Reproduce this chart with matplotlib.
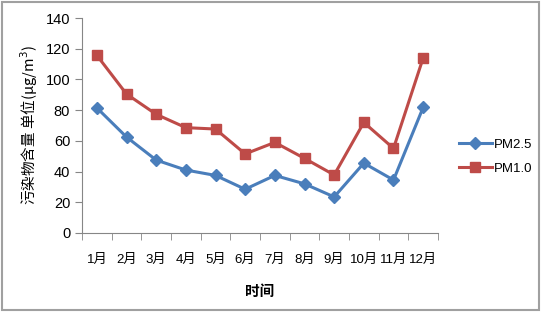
import matplotlib.pyplot as plt
import numpy as np

plt.rcParams['font.family'] = ['Liberation Sans', 'Noto Sans CJK SC', 'DejaVu Sans']

months = ["1月", "2月", "3月", "4月", "5月", "6月", "7月", "8月", "9月", "10月", "11月", "12月"]
pm25 = [81.5, 62.5, 47.5, 41, 37.5, 28.5, 37.5, 32, 23.5, 45.5, 34.5, 81.8]
pm10 = [115.7, 90.5, 77.3, 68.6, 67.7, 51.5, 59, 48.6, 37.8, 72, 55.1, 114]

fig = plt.figure(figsize=(5.41, 3.12), dpi=100)
ax = fig.add_axes([82 / 541, 1 - 233 / 312, 356 / 541, 215 / 312])

x = np.arange(len(months))
ax.plot(x, pm25, color="#4A7EBB", lw=2.2, marker="D", ms=6, label="PM2.5")
ax.plot(x, pm10, color="#BE4B48", lw=2.2, marker="s", ms=7.5, label="PM1.0")

ax.set_xlim(-0.5, len(months) - 0.5)
ax.set_ylim(0, 140)
ax.set_yticks(range(0, 141, 20))
ax.set_xticks(x)
ax.set_xticklabels(months)
ax.set_xticks(np.arange(-0.5, len(months), 1), minor=True)
ax.tick_params(axis="x", which="major", length=0, pad=15, labelsize=9.5)
ax.tick_params(axis="x", which="minor", length=5, color="#868686", direction="out")
ax.tick_params(axis="y", length=5, color="#868686", labelsize=10.5)

for s in ["top", "right"]:
    ax.spines[s].set_visible(False)
for s in ["left", "bottom"]:
    ax.spines[s].set_color("#868686")

ax.set_ylabel("污染物含量 单位(μg/m$^3$)", fontsize=10.5,
              family=["Noto Sans CJK SC", "DejaVu Sans"], labelpad=4)
ax.set_xlabel("时间", fontsize=10.5, fontweight="bold",
              family=["Noto Sans CJK SC"], labelpad=12)

ax.legend(loc="center left", bbox_to_anchor=(1 + 21 / 356, 0.355), frameon=False,
          fontsize=9.5, handlelength=2.5, handletextpad=0.15, labelspacing=0.9,
          borderpad=0, borderaxespad=0)

fig.add_artist(plt.Rectangle((0.003, 0.005), 0.994, 0.99, transform=fig.transFigure,
                             fill=False, edgecolor="#A0A0A0", lw=1.5))

fig.savefig("out.png", dpi=100)
